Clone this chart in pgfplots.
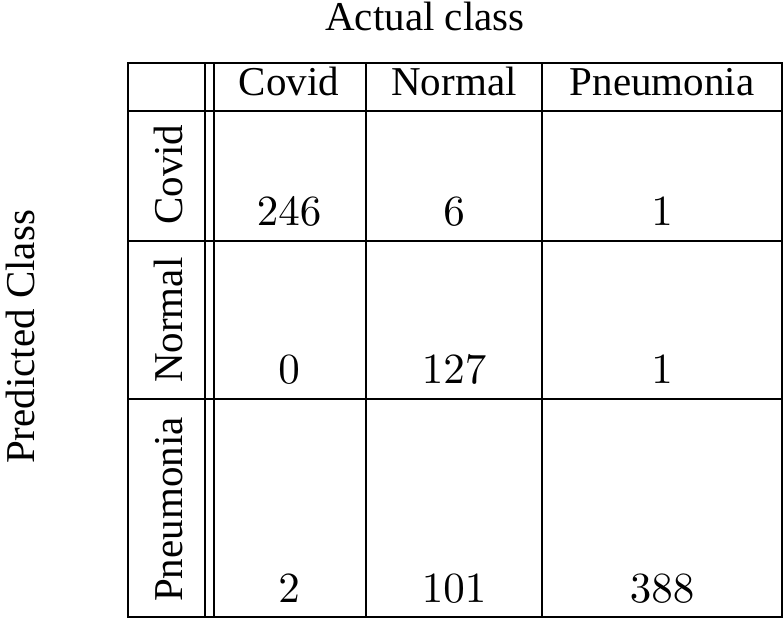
\documentclass[border=0pt]{standalone}
\usepackage{fontspec}
\setmainfont{Liberation Serif}
\DeclareFontShape{OT1}{cmr}{m}{n}{<-> cmr10}{}
\usepackage{pgfplots}
\usepackage{pgfplotstable}
\pgfplotsset{compat=1.18}
% cell values: x = column centre, y = baseline (pixel-like units), v = count
\pgfplotstableread{
x   y   v
289 225 246
454 225 6
662 225 1
289 383 0
454 383 127
662 383 1
289 602 2
454 602 101
662 602 388
}\cm
\begin{document}
\begin{tikzpicture}[every node/.append style={font=\fontsize{41}{49}\selectfont}]
\begin{axis}[
  scale only axis,
  width=654pt, height=554pt,
  xmin=128, xmax=782, ymin=63, ymax=617,
  y dir=reverse,
  clip=false,
  axis line style={black, line width=1.5pt},
  xtick={205,214,366,542},
  ytick={111,241,399},
  xticklabels={}, yticklabels={},
  major tick length=0pt,
  grid=major,
  major grid style={black, line width=1.5pt},
]
\addplot[draw=none, mark=none, nodes near coords, point meta=explicit,
  nodes near coords align={anchor=base},
  every node near coord/.append style={font=\fontsize{43}{50}\selectfont, inner sep=0pt}]
  table[x=x, y=y, meta=v] {\cm};
\node[anchor=base] at (axis cs:425,31) {Actual class};
\node[rotate=90, anchor=base] at (axis cs:35,337) {Predicted Class};
\node[anchor=base] at (axis cs:289,96) {Covid};
\node[anchor=base] at (axis cs:454,96) {Normal};
\node[anchor=base] at (axis cs:662,96) {Pneumonia};
\node[rotate=90, anchor=base west, inner sep=0pt] at (axis cs:182,225) {Covid};
\node[rotate=90, anchor=base west, inner sep=0pt] at (axis cs:182,383) {Normal};
\node[rotate=90, anchor=base west, inner sep=0pt] at (axis cs:182,602) {Pneumonia};
\coordinate (bbA) at (axis cs:0,0);
\coordinate (bbB) at (axis cs:783,618);
\end{axis}
\pgfresetboundingbox
\path[use as bounding box] (bbA) rectangle (bbB);
\end{tikzpicture}
\end{document}
